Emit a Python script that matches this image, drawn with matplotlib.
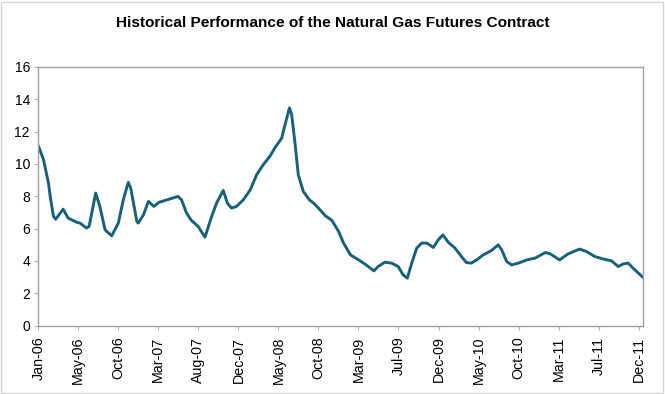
import matplotlib
matplotlib.use("Agg")
import matplotlib.pyplot as plt
from matplotlib.patches import Rectangle
import pandas as pd

dates = ["2006-01-01", "2006-01-20", "2006-02-07", "2006-02-13", "2006-02-25", "2006-03-05",
         "2006-04-01", "2006-04-19", "2006-05-19", "2006-06-01", "2006-06-25", "2006-07-04",
         "2006-07-28", "2006-08-12", "2006-08-31", "2006-09-24", "2006-10-18", "2006-11-05",
         "2006-11-23", "2006-12-02", "2006-12-24", "2006-12-29", "2007-01-17", "2007-02-04",
         "2007-02-24", "2007-03-14", "2007-04-22", "2007-05-22", "2007-06-04", "2007-06-22",
         "2007-07-10", "2007-08-03", "2007-08-28", "2007-09-21", "2007-10-09", "2007-11-02",
         "2007-11-17", "2007-12-02", "2007-12-20", "2008-01-14", "2008-02-08", "2008-03-02",
         "2008-03-26", "2008-04-19", "2008-05-07", "2008-06-01", "2008-06-13", "2008-06-29",
         "2008-07-07", "2008-07-19", "2008-07-31", "2008-08-18", "2008-09-09", "2008-09-24",
         "2008-10-12", "2008-11-06", "2008-11-30", "2008-12-24", "2009-01-11", "2009-02-05",
         "2009-03-01", "2009-03-29", "2009-05-01", "2009-05-16", "2009-06-10", "2009-07-04",
         "2009-07-28", "2009-08-15", "2009-08-30", "2009-09-15", "2009-10-03", "2009-10-21",
         "2009-11-09", "2009-12-02", "2009-12-20", "2010-01-06", "2010-01-26", "2010-02-19",
         "2010-03-14", "2010-04-01", "2010-04-19", "2010-05-08", "2010-06-01", "2010-07-01",
         "2010-07-25", "2010-08-07", "2010-08-25", "2010-09-12", "2010-10-06", "2010-11-06",
         "2010-12-06", "2011-01-12", "2011-01-30", "2011-03-05", "2011-04-04", "2011-05-16",
         "2011-06-10", "2011-07-10", "2011-08-09", "2011-09-09", "2011-10-03", "2011-10-21",
         "2011-11-08", "2011-11-26", "2011-12-31"]
prices = [11.13, 10.26, 8.80, 8.00, 6.75, 6.58,
          7.20, 6.65, 6.40, 6.34, 6.03, 6.13,
          8.20, 7.37, 5.92, 5.55, 6.34, 7.78,
          8.86, 8.50, 6.44, 6.34, 6.85, 7.68,
          7.37, 7.62, 7.83, 7.99, 7.78, 6.96,
          6.50, 6.13, 5.47, 6.75, 7.58, 8.36,
          7.58, 7.27, 7.37, 7.78, 8.40, 9.33,
          9.95, 10.47, 10.99, 11.60, 12.43, 13.47,
          13.05, 11.30, 9.33, 8.30, 7.78, 7.58,
          7.27, 6.79, 6.50, 5.82, 5.10, 4.37,
          4.12, 3.81, 3.38, 3.65, 3.92, 3.86,
          3.65, 3.13, 2.93, 3.86, 4.79, 5.10,
          5.10, 4.83, 5.30, 5.61, 5.14, 4.79,
          4.27, 3.90, 3.86, 4.06, 4.37, 4.64,
          4.99, 4.68, 3.96, 3.75, 3.86, 4.06,
          4.17, 4.52, 4.43, 4.06, 4.43, 4.73,
          4.58, 4.27, 4.12, 4.00, 3.65, 3.81,
          3.86, 3.55, 2.99]

title = "Historical Performance of the Natural Gas Futures Contract"
y_ticks = [0, 2, 4, 6, 8, 10, 12, 14, 16]

plt.rcParams['font.family'] = ['Liberation Sans', 'DejaVu Sans']

fig = plt.figure(figsize=(6.65, 3.94), dpi=100)
fig.patch.set_facecolor('white')
W, H = 665, 394
ax = fig.add_axes([38.3 / W, (H - 325.5) / H, (643.3 - 38.3) / W, (325.5 - 67) / H])

x = pd.to_datetime(dates)
ax.plot(x, prices, color='#17617b', linewidth=2.1, solid_joinstyle='round', solid_capstyle='round')

start = pd.Timestamp("2006-01-01")
ax.set_xlim(start, pd.Timestamp("2012-01-02"))
ax.set_ylim(0, 16)
ax.set_yticks(y_ticks)
ax.set_yticklabels([str(v) for v in y_ticks], fontsize=10)

tick_dates = [start + pd.Timedelta(days=145 * k) for k in range(16)]
ax.set_xticks(tick_dates)
ax.set_xticklabels([d.strftime("%b-%y") for d in tick_dates], rotation=90, fontsize=10.3)

for s in ax.spines.values():
    s.set_color('#a0a0a0')
    s.set_linewidth(1.0)
ax.tick_params(axis='both', colors='#b0b0b0', labelcolor='black', length=3, width=0.8)
ax.tick_params(axis='x', pad=5)
ax.tick_params(axis='y', pad=3)

fig.text(0.5, (H - 23) / H, title, ha='center', va='center', fontsize=11.1, fontweight='bold')

fig.patches.append(Rectangle((1 / W, 1.5 / H), 662 / W, 391 / H, transform=fig.transFigure,
                             fill=False, edgecolor='#d4d4d4', linewidth=1.0))

fig.savefig("out.png", dpi=100, facecolor='white')
